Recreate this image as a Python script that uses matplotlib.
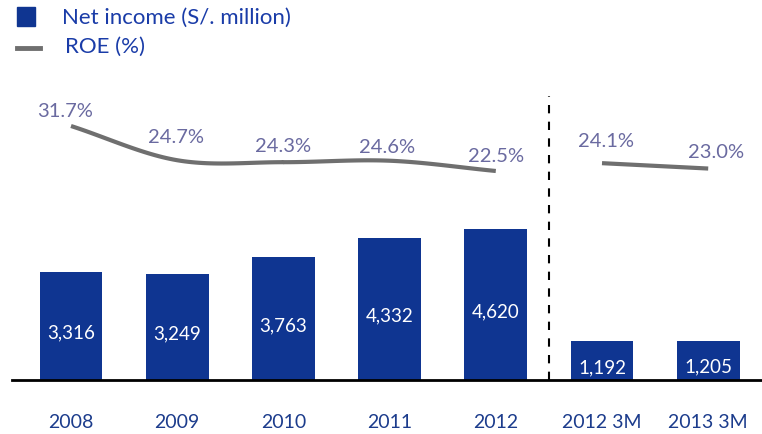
import numpy as np
import matplotlib
matplotlib.use("Agg")
import matplotlib.pyplot as plt
from matplotlib.patches import Rectangle
from matplotlib.lines import Line2D

categories = ["2008", "2009", "2010", "2011", "2012", "2012 3M", "2013 3M"]
net_income = [3316, 3249, 3763, 4332, 4620, 1192, 1205]
roe = [31.7, 24.7, 24.3, 24.6, 22.5, 24.1, 23.0]
annual_idx = [0, 1, 2, 3, 4]
quarter_idx = [5, 6]

FONT = ["Lato", "DejaVu Sans"]
plt.rcParams["font.family"] = FONT

BAR_COLOR = "#0f3591"
LINE_COLOR = "#6f6f6f"
ROE_TEXT = "#6a6aa0"
TICK_COLOR = "#1c3c8c"
LEGEND_TEXT = "#1a3ca8"

W, H = 762, 435
fig = plt.figure(figsize=(W / 100, H / 100), dpi=100)
base_px = 381
ax = fig.add_axes([0, (H - base_px) / H, 1, base_px / H])
x = np.arange(len(categories))
spacing = 106.2
x0 = 71
px_per_unit = 0.0327
ax.set_xlim(-x0 / spacing, (W - x0) / spacing)
ax.set_ylim(0, base_px / px_per_unit)

ax.bar(x, net_income, width=0.59, color=BAR_COLOR, zorder=2)
for xi, v in zip(x, net_income):
    ax.text(xi, v / 2 - 6 / px_per_unit, f"{v:,}", color="white",
            ha="center", va="center", fontsize=13.5)

for s in ax.spines.values():
    s.set_visible(False)
ax.set_yticks([])
ax.set_xticks(x)
ax.set_xticklabels(categories, fontsize=14, color=TICK_COLOR)
ax.tick_params(axis="x", length=0, pad=24)
ax.axhline(0, xmin=12 / W, xmax=1, color="black", lw=2, zorder=3, clip_on=False)

# vertical dashed separator
ax.axvline((549 - x0) / spacing, ymin=0, ymax=(base_px - 97) / base_px,
           color="black", lw=1.5, ls=(0, (4, 4)))

# ROE on twin axis
ax2 = ax.twinx()
ax2.set_position(ax.get_position())
top_px, top_val, ppp = 127, 31.7, 4.89
ax2.set_ylim(top_val - (base_px - top_px) / ppp, top_val + top_px / ppp)
ax2.set_axis_off()


def smooth(xs, ys, n=30):
    xs = np.asarray(xs, float)
    ys = np.asarray(ys, float)
    if len(xs) < 3:
        return xs, ys
    px = np.concatenate([[2 * xs[0] - xs[1]], xs, [2 * xs[-1] - xs[-2]]])
    py = np.concatenate([[2 * ys[0] - ys[1]], ys, [2 * ys[-1] - ys[-2]]])
    ox, oy = [], []
    for i in range(1, len(px) - 2):
        t = np.linspace(0, 1, n)
        for arr, out in ((px, ox), (py, oy)):
            p0, p1, p2, p3 = arr[i - 1:i + 3]
            out.extend(0.5 * ((2 * p1) + (-p0 + p2) * t +
                              (2 * p0 - 5 * p1 + 4 * p2 - p3) * t ** 2 +
                              (-p0 + 3 * p1 - 3 * p2 + p3) * t ** 3))
    return np.array(ox), np.array(oy)


for idx in (annual_idx, quarter_idx):
    sx, sy = smooth([x[i] for i in idx], [roe[i] for i in idx])
    ax2.plot(sx, sy, color=LINE_COLOR, lw=3.0, solid_capstyle="butt")

# label placement offsets in pixels (dx, gap above point)
label_dx_px = [-6, -1, 0, -3, 0, 4, 8]
label_gap_px = [10, 18, 11, 9, 10, 17, 12]
for i, v in enumerate(roe):
    ax2.text(x[i] + label_dx_px[i] / spacing, v + label_gap_px[i] / ppp,
             f"{v}%", color=ROE_TEXT, ha="center", va="baseline",
             fontsize=14.5)

# legend
fig.patches.append(Rectangle((17 / W, 1 - 27 / H), 18 / W, 19 / H,
                             transform=fig.transFigure, color=BAR_COLOR))
fig.lines.append(Line2D([17 / W, 40 / W], [1 - 49 / H] * 2,
                        transform=fig.transFigure, color=LINE_COLOR, lw=3.5))
fig.text(62 / W, 1 - 18 / H, "Net income (S/. million)", color=LEGEND_TEXT,
         fontsize=16, va="center", ha="left")
fig.text(65 / W, 1 - 47 / H, "ROE (%)", color=LEGEND_TEXT,
         fontsize=16, va="center", ha="left")

fig.savefig("out.png", dpi=100)
